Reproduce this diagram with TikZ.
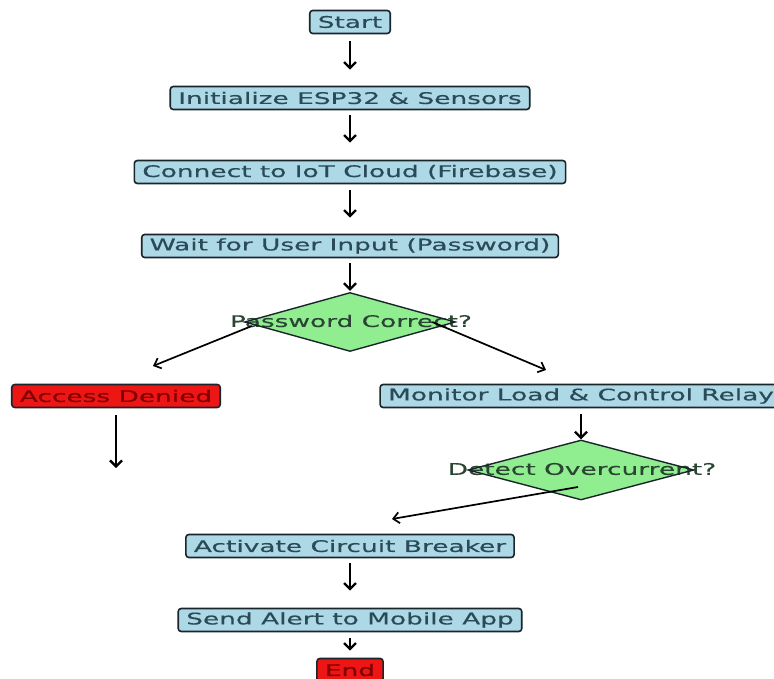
\documentclass[tikz,border=0pt]{standalone}
\usepackage{fontspec}
\newfontfamily\dv[FakeStretch=1.65,FakeBold=0.4]{DejaVu Sans}
\usetikzlibrary{shapes.geometric,arrows.meta}
\definecolor{boxblue}{HTML}{ADD8E6}
\definecolor{boxtext}{HTML}{2A4A58}
\definecolor{boxline}{HTML}{1A252B}
\definecolor{dgreen}{HTML}{90EE90}
\definecolor{dtext}{HTML}{2A4632}
\definecolor{boxred}{HTML}{EE1515}
\definecolor{redtext}{HTML}{800000}
\tikzset{
  every node/.style={font=\dv\fontsize{16}{19}\selectfont},
  procbox/.style={draw=boxline, line width=1.6pt, rounded corners=3pt, fill=boxblue, text=boxtext,
    inner xsep=8pt, inner ysep=0pt, minimum height=23pt},
  redbox/.style={procbox, fill=boxred, text=redtext},
  decfill/.style={shape=diamond, fill=dgreen, inner sep=0pt},
  dectext/.style={text=dtext, inner sep=0pt},
  decline/.style={draw=boxline, line width=1.4pt},
  arr/.style={draw=black, line width=2.3pt, -{Straight Barb[length=6pt,width=12pt]}},
  darr/.style={draw=black, line width=1.7pt, -{Straight Barb[length=6pt,width=11pt]}}
}
\begin{document}
\begin{tikzpicture}[x=1pt,y=-1pt]
\useasboundingbox (0,0) rectangle (774,679);
\fill[white] (0,0) rectangle (774,679);
% process boxes
\node[procbox] (start) at (350,22) {Start};
\node[procbox] (init) at (350,98) {Initialize ESP32 \& Sensors};
\node[procbox] (conn) at (350,172) {Connect to IoT Cloud (Firebase)};
\node[procbox] (wait) at (350,246) {Wait for User Input (Password)};
% decision 1
\node[decfill, minimum width=210pt, minimum height=58pt] (pw) at (350,322) {};
\node[dectext] (pwt) at (351,321) {Password Correct?};
\draw[decline] (pw.north) -- (pw.east) -- (pw.south) -- (pw.west) -- cycle;
\node[redbox] (denied) at (116,396) {Access Denied};
\node[procbox] (monitor) at (581,396) {Monitor Load \& Control Relay};
% decision 2
\node[decfill, minimum width=225pt, minimum height=59pt] (oc) at (581,470) {};
\node[dectext] (oct) at (582,469) {Detect Overcurrent?};
\draw[decline] (oc.north) -- (oc.east) -- (oc.south) -- (oc.west) -- cycle;
\node[procbox] (act) at (350,546) {Activate Circuit Breaker};
\node[procbox] (alert) at (350,620) {Send Alert to Mobile App};
\node[redbox] (end) at (350,670) {End};
% free ends
\coordinate (dl) at (153,366);
\coordinate (dr) at (546,370);
\coordinate (dd) at (116,468);
\coordinate (oa) at (392,519);
% connectors
\draw[arr] ([yshift=-7pt]start.south) -- ([yshift=16pt]init.north);
\draw[arr] ([yshift=-5pt]init.south) -- ([yshift=17pt]conn.north);
\draw[arr] ([yshift=-6pt]conn.south) -- ([yshift=16pt]wait.north);
\draw[arr] ([yshift=-5pt]wait.south) -- ([yshift=2pt]pw.north);
\draw[darr] ([shift={(7pt,-4pt)}]pw.west) -- (dl);
\draw[darr] ([xshift=-23pt]pw.east) -- (dr);
\draw[arr] ([yshift=-7pt]denied.south) -- (dd);
\draw[arr] ([yshift=-6pt]monitor.south) -- ([yshift=1pt]oc.north);
\draw[darr] ([shift={(-3pt,-17pt)}]oc.center) -- (oa);
\draw[arr] ([yshift=-5pt]act.south) -- ([yshift=17pt]alert.north);
\draw[arr] ([yshift=-6pt]alert.south) -- ([yshift=7pt]end.north);
\end{tikzpicture}
\end{document}
